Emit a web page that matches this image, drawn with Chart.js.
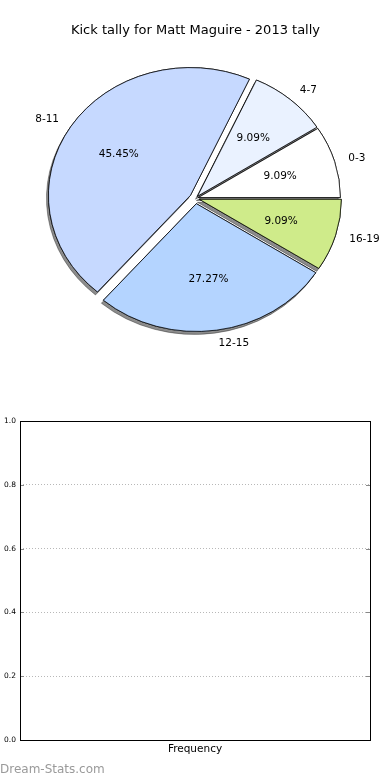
<!DOCTYPE html>
<html>
<head>
<meta charset="utf-8">
<script src="https://cdn.jsdelivr.net/npm/chart.js@4.4.1/dist/chart.umd.min.js"></script>
<style>
  body { margin: 0; background: #fff; width: 390px; height: 780px; position: relative; overflow: hidden; }
  #pieWrap { position: absolute; left: 0; top: 0; width: 390px; height: 400px; }
  #barWrap { position: absolute; left: 0; top: 410px; width: 390px; height: 370px; }
  #mark { position: absolute; left: 0; top: 762px; font: 12px "DejaVu Sans", sans-serif; color: #9a9a9a; }
</style>
</head>
<body>
<div id="pieWrap"><canvas id="kicks"></canvas></div>
<div id="barWrap"><canvas id="freq"></canvas></div>
<div id="mark">Dream-Stats.com</div>
<script>
// kick tally bins, in the order the original pie lists them (counter-clockwise from 3 o'clock)
const bins = ["0-3", "4-7", "8-11", "12-15", "16-19"];
const kicks = [1, 1, 5, 3, 1];
const sliceColors = ["#ffffff", "#eaf2ff", "#c6d9ff", "#b4d4ff", "#cfeb8a"];
const explode = [3, 3, 6, 6, 4];

// empty frequency panel below
const freqLabels = ["Frequency"];
const freqValues = [];
const yTicks = [0, 0.2, 0.4, 0.6, 0.8, 1.0];

const squash = 0.9; // original pie is not drawn with equal axes

// chart.js goes clockwise, so reverse to get the same layout
const pieLabels = bins.slice().reverse();
const pieData = kicks.slice().reverse();
const pieColors = sliceColors.slice().reverse();
const pieExplode = explode.slice().reverse();

const explodedPie = {
  id: "explodedPie",
  beforeDatasetsDraw(chart) {
    const ctx = chart.ctx;
    const arcs = chart.getDatasetMeta(0).data;
    const cx = arcs[0].x, cy = arcs[0].y;
    ctx.save();
    ctx.translate(cx, cy);
    ctx.scale(1, squash);
    ctx.translate(-cx, -cy);
    [true, false].forEach((shadow) => {
      arcs.forEach((arc, i) => {
        const mid = (arc.startAngle + arc.endAngle) / 2;
        ctx.save();
        ctx.translate(Math.cos(mid) * pieExplode[i], Math.sin(mid) * pieExplode[i]);
        if (shadow) {
          ctx.shadowColor = "rgba(0,0,0,0.45)";
          ctx.shadowOffsetX = -2;
          ctx.shadowOffsetY = 3;
        }
        arc.draw(ctx);
        ctx.restore();
      });
    });
    ctx.restore();
    return false;
  },
  afterDraw(chart) {
    const ctx = chart.ctx;
    const arcs = chart.getDatasetMeta(0).data;
    const total = pieData.reduce((a, b) => a + b, 0);
    ctx.save();
    ctx.font = "10.5px 'DejaVu Sans'";
    ctx.fillStyle = "#000";
    ctx.textBaseline = "middle";
    arcs.forEach((arc, i) => {
      const mid = (arc.startAngle + arc.endAngle) / 2;
      const r = arc.outerRadius;
      const ex = arc.x + Math.cos(mid) * pieExplode[i];
      const ey = arc.y + Math.sin(mid) * pieExplode[i] * squash;
      const c = Math.cos(mid), s = Math.sin(mid) * squash;
      ctx.textAlign = c > 0 ? "left" : "right";
      ctx.fillText(pieLabels[i], ex + 1.1 * r * c, ey + 1.1 * r * s);
      ctx.textAlign = "center";
      ctx.fillText((pieData[i] / total * 100).toFixed(2) + "%", ex + 0.6 * r * c, ey + 0.6 * r * s);
    });
    ctx.restore();
  }
};

new Chart(document.getElementById("kicks"), {
  type: "pie",
  data: {
    labels: pieLabels,
    datasets: [
      {
        data: pieData,
        backgroundColor: pieColors,
        borderColor: "#000",
        borderWidth: 0.8,
      },
    ],
  },
  options: {
    responsive: true,
    maintainAspectRatio: false,
    animation: false,
    events: [],
    rotation: 90,
    radius: 142,
    layout: { padding: { left: 1, right: 0, top: 0, bottom: 42 } },
    plugins: {
      legend: { display: false },
      tooltip: { enabled: false },
      title: {
        display: true,
        text: "Kick tally for Matt Maguire - 2013 tally",
        color: "#000",
        font: { family: "DejaVu Sans", size: 13, weight: "normal" },
        padding: { top: 23, bottom: 0 },
      },
    },
  },
  plugins: [explodedPie],
});

const frame = {
  id: "frame",
  afterDraw(chart) {
    const { ctx, chartArea: a } = chart;
    const y = chart.scales.y;
    ctx.save();
    ctx.strokeStyle = "#888";
    ctx.lineWidth = 1;
    y.ticks.forEach((t) => {
      const py = Math.round(y.getPixelForValue(t.value)) + 0.5;
      ctx.beginPath();
      ctx.moveTo(a.left, py); ctx.lineTo(a.left + 4, py);
      ctx.moveTo(a.right, py); ctx.lineTo(a.right - 4, py);
      ctx.stroke();
    });
    ctx.strokeStyle = "#000";
    ctx.strokeRect(Math.round(a.left) + 0.5, Math.round(a.top) + 0.5,
      Math.round(a.right - a.left), Math.round(a.bottom - a.top));
    ctx.restore();
  }
};

new Chart(document.getElementById("freq"), {
  type: "bar",
  data: {
    labels: freqLabels,
    datasets: [{ data: freqValues, backgroundColor: "#c6d9ff" }],
  },
  options: {
    responsive: true,
    maintainAspectRatio: false,
    animation: false,
    events: [],
    layout: { padding: { left: 0, right: 20, top: 11, bottom: 0 } },
    plugins: { legend: { display: false }, tooltip: { enabled: false } },
    scales: {
      x: {
        grid: { display: false, drawTicks: false },
        border: { display: false },
        ticks: { color: "#000", padding: 3, font: { family: "DejaVu Sans", size: 10.5 } },
        afterFit(scale) { scale.height = 40; },
      },
      y: {
        min: yTicks[0],
        max: yTicks[yTicks.length - 1],
        afterBuildTicks(scale) { scale.ticks = yTicks.map((v) => ({ value: v })); },
        grid: { color: "#b8b8b8", lineWidth: 1, drawTicks: false },
        border: { display: false, dash: [1, 2] },
        ticks: {
          color: "#000",
          padding: 4,
          font: { family: "DejaVu Sans", size: 7.5 },
          callback: (v) => Number(v).toFixed(1),
        },
        afterFit(scale) { scale.width = 20; },
      },
    },
  },
  plugins: [frame],
});
</script>
</body>
</html>
